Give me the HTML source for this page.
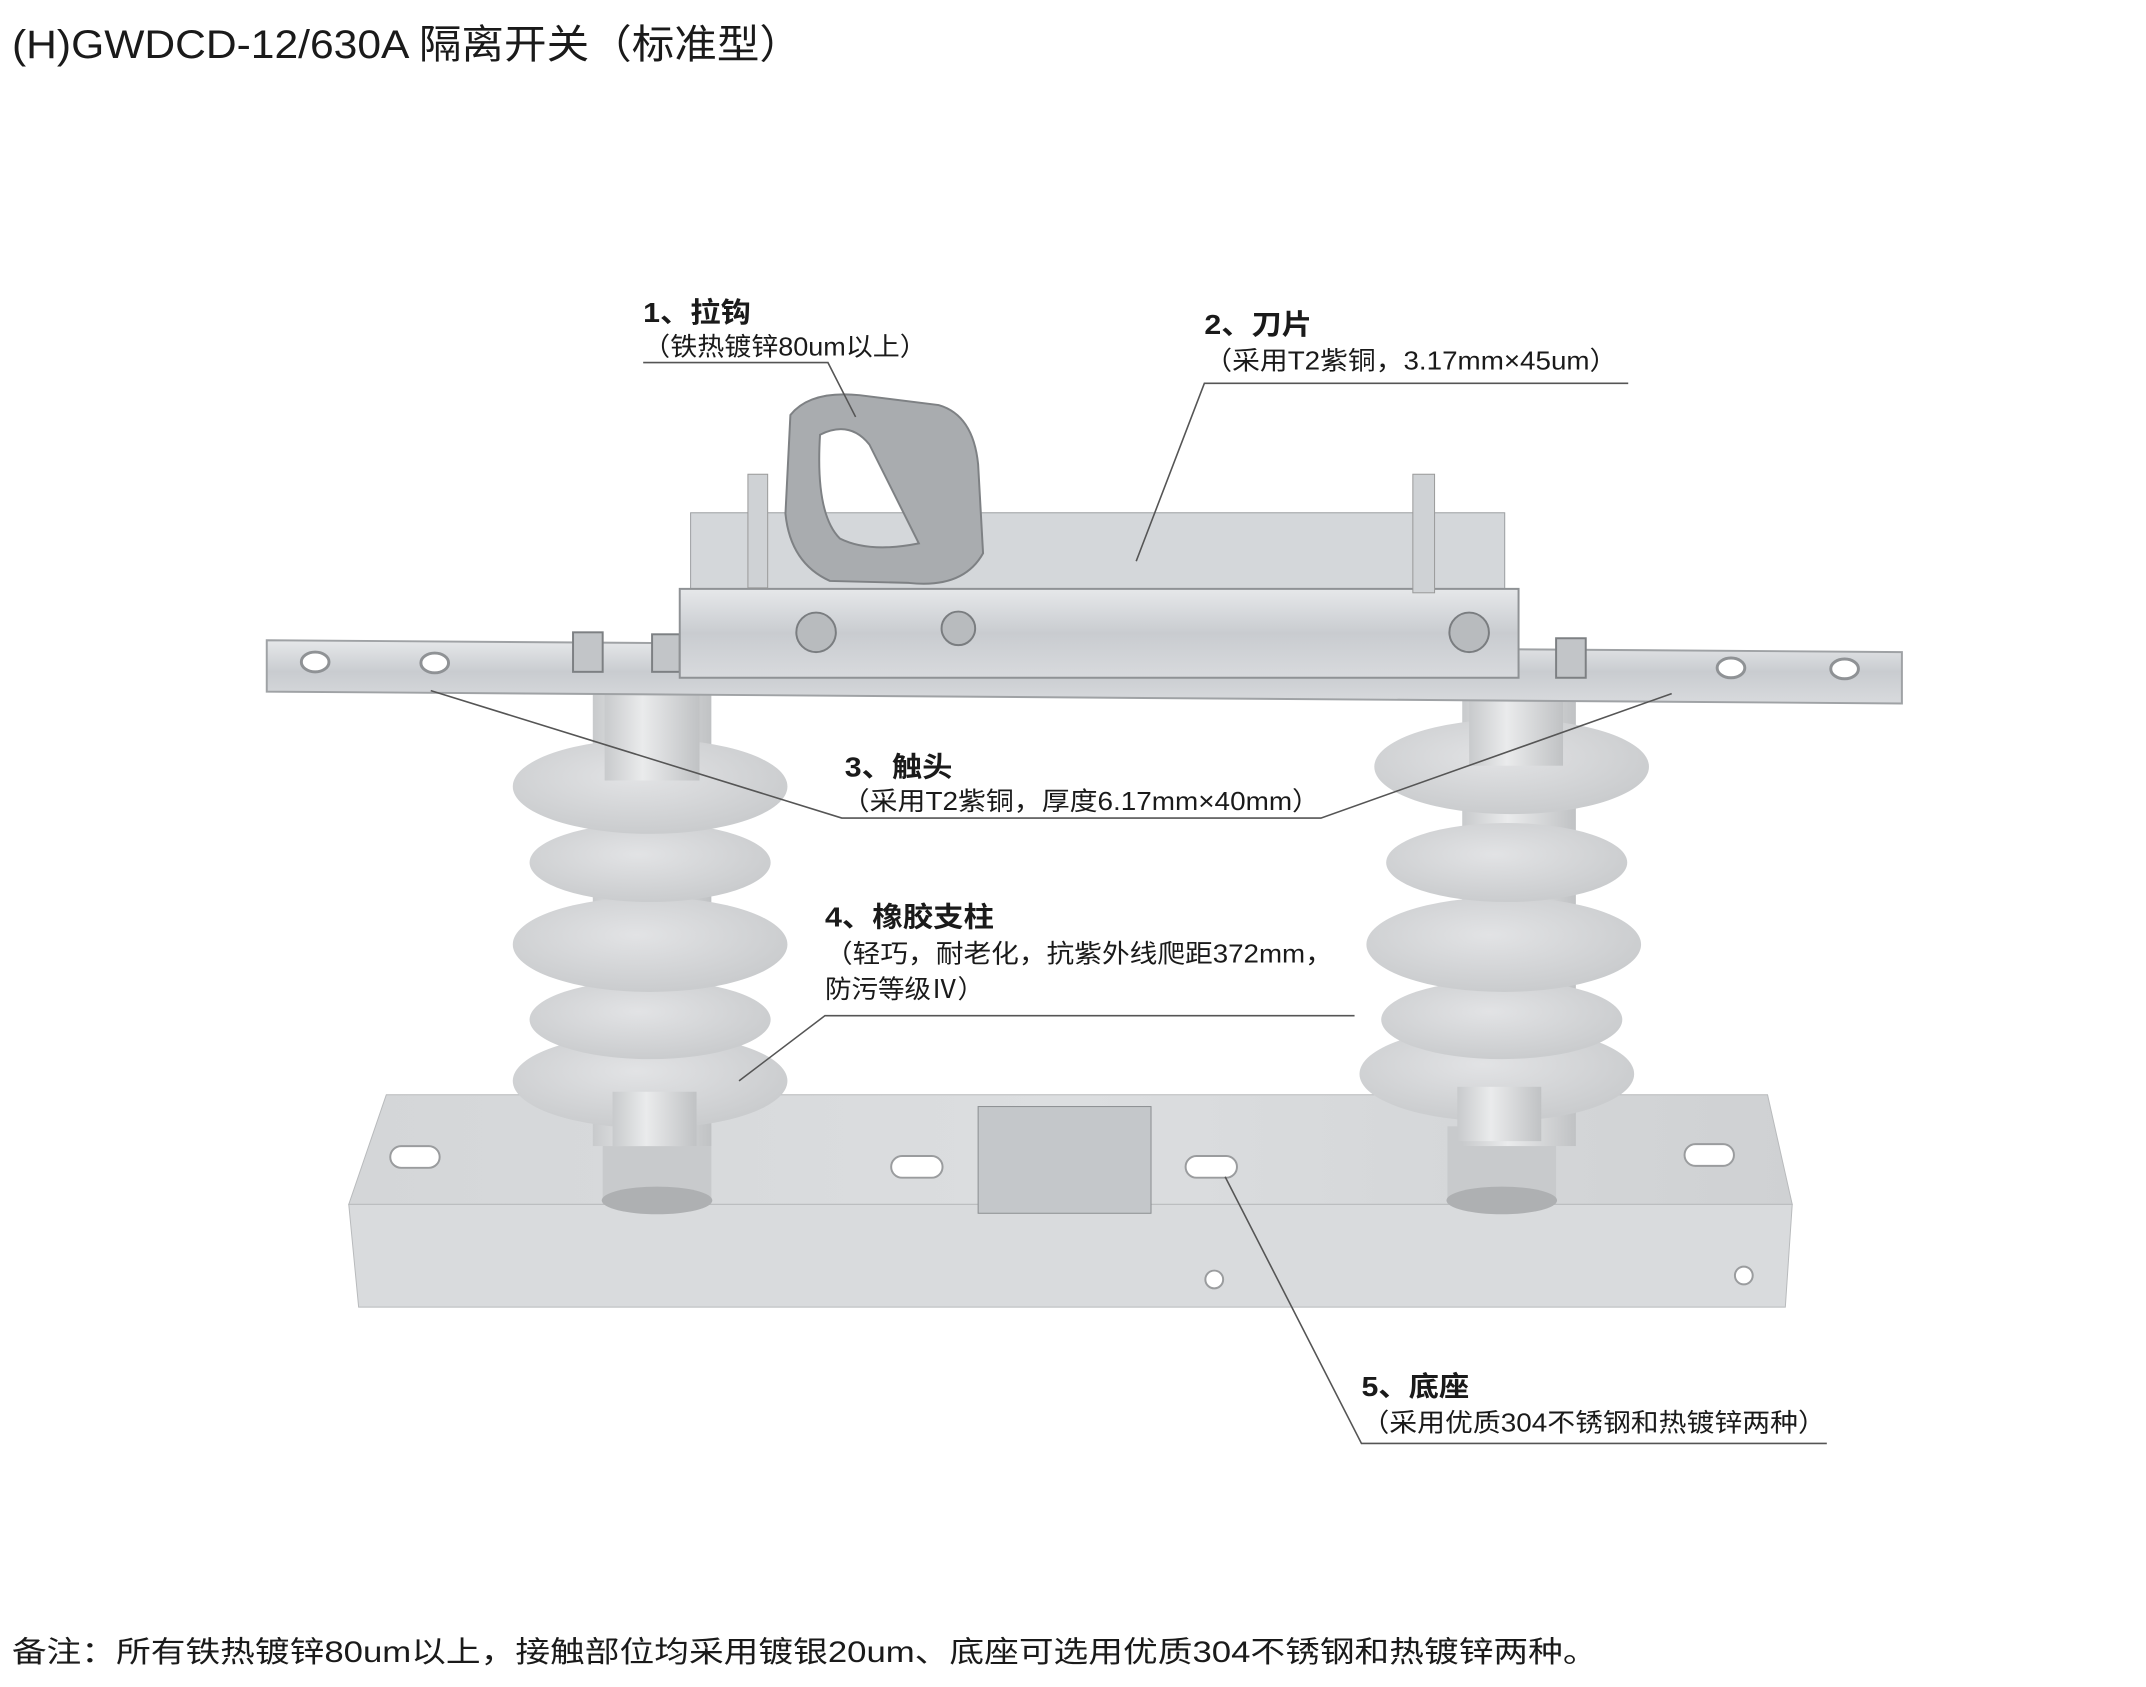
<!DOCTYPE html>
<html><head><meta charset="utf-8">
<style>
html,body{margin:0;padding:0;background:#fff;}
svg{display:block;}
text{font-family:"Liberation Sans","Noto Sans CJK SC",sans-serif;fill:#1a1a1a;}
.b{font-weight:bold;font-size:28px;}
.s{font-size:26px;}
</style></head><body>
<svg width="2146" height="1687" viewBox="0 0 2146 1687" xmlns="http://www.w3.org/2000/svg">
<defs>
<linearGradient id="metal" x1="0" y1="0" x2="0" y2="1">
<stop offset="0" stop-color="#e6e8ea"/><stop offset="0.5" stop-color="#c9ccd0"/><stop offset="1" stop-color="#d8dadd"/></linearGradient>
<linearGradient id="base" x1="0" y1="0" x2="1" y2="0">
<stop offset="0" stop-color="#d4d6d8"/><stop offset="0.5" stop-color="#dcdee0"/><stop offset="1" stop-color="#cfd1d3"/></linearGradient>
<linearGradient id="stem" x1="0" y1="0" x2="1" y2="0">
<stop offset="0" stop-color="#c8cacc"/><stop offset="0.4" stop-color="#eaebec"/><stop offset="1" stop-color="#c0c2c4"/></linearGradient>
<radialGradient id="disk" cx="0.45" cy="0.4" r="0.7">
<stop offset="0" stop-color="#e2e3e5"/><stop offset="1" stop-color="#c6c8ca"/></radialGradient>
</defs>

<text x="12" y="58" font-size="40" textLength="790" lengthAdjust="spacingAndGlyphs">(H)GWDCD-12/630A 隔离开关（标准型）</text>

<g transform="scale(0.988)">
<!-- base -->
<polygon points="391,1108 1789,1108 1814,1219 353,1219" fill="url(#base)" stroke="#b8babc"/>
<polygon points="353,1219 1814,1219 1807,1323 363,1323" fill="#d9dbdd" stroke="#b8babc"/>
<g fill="#fff" stroke="#9a9c9e" stroke-width="2">
<rect x="395" y="1160" width="50" height="22" rx="11"/>
<rect x="902" y="1170" width="52" height="22" rx="11"/>
<rect x="1200" y="1170" width="52" height="22" rx="11"/>
<rect x="1705" y="1158" width="50" height="22" rx="11"/>
<circle cx="1229" cy="1295" r="9"/><circle cx="1765" cy="1291" r="9"/>
</g>
<rect x="990" y="1120" width="175" height="108" fill="#c4c7ca" stroke="#8a8d90"/>

<!-- insulators -->
<g>
<rect x="610" y="1140" width="110" height="75" fill="#c8cacc"/>
<ellipse cx="665" cy="1215" rx="56" ry="14" fill="#aeb0b2"/>
<rect x="600" y="700" width="120" height="460" fill="url(#stem)"/>
<ellipse cx="658" cy="1094" rx="139" ry="48" fill="url(#disk)"/>
<ellipse cx="658" cy="1032" rx="122" ry="40" fill="url(#disk)"/>
<ellipse cx="658" cy="956" rx="139" ry="48" fill="url(#disk)"/>
<ellipse cx="658" cy="873" rx="122" ry="40" fill="url(#disk)"/>
<ellipse cx="658" cy="796" rx="139" ry="48" fill="url(#disk)"/>
<rect x="612" y="700" width="96" height="90" fill="url(#stem)"/>
<rect x="620" y="1105" width="85" height="55" fill="url(#stem)"/>
</g>
<g>
<rect x="1465" y="1140" width="110" height="75" fill="#c8cacc"/>
<ellipse cx="1520" cy="1215" rx="56" ry="14" fill="#aeb0b2"/>
<rect x="1480" y="700" width="115" height="460" fill="url(#stem)"/>
<ellipse cx="1515" cy="1087" rx="139" ry="48" fill="url(#disk)"/>
<ellipse cx="1520" cy="1032" rx="122" ry="40" fill="url(#disk)"/>
<ellipse cx="1522" cy="956" rx="139" ry="48" fill="url(#disk)"/>
<ellipse cx="1525" cy="873" rx="122" ry="40" fill="url(#disk)"/>
<ellipse cx="1530" cy="776" rx="139" ry="48" fill="url(#disk)"/>
<rect x="1487" y="700" width="95" height="75" fill="url(#stem)"/>
<rect x="1475" y="1100" width="85" height="55" fill="url(#stem)"/>
</g>

<!-- busbar -->
<polygon points="270,648 1925,660 1925,712 270,700" fill="url(#metal)" stroke="#9fa2a5" stroke-width="2"/>
<g fill="#fff" stroke="#8f9295" stroke-width="3">
<ellipse cx="319" cy="670" rx="14" ry="10"/><ellipse cx="440" cy="671" rx="14" ry="10"/>
<ellipse cx="1752" cy="676" rx="14" ry="10"/><ellipse cx="1867" cy="677" rx="14" ry="10"/>
</g>
<g fill="#c2c5c8" stroke="#7d8083" stroke-width="2">
<rect x="580" y="640" width="30" height="40"/><rect x="660" y="642" width="28" height="38"/>
<rect x="1575" y="646" width="30" height="40"/>
</g>

<!-- blade box -->
<rect x="699" y="519" width="824" height="77" fill="#d4d7da" stroke="#9a9da0"/>
<polygon points="688,596 1537,596 1537,686 688,686" fill="url(#metal)" stroke="#8f9295" stroke-width="2"/>
<g fill="#b8bbbe" stroke="#7a7d80" stroke-width="2">
<circle cx="826" cy="640" r="20"/><circle cx="970" cy="636" r="17"/><circle cx="1487" cy="640" r="20"/>
</g>
<rect x="757" y="480" width="20" height="115" fill="#cfd2d5" stroke="#999"/>
<rect x="1430" y="480" width="22" height="120" fill="#cfd2d5" stroke="#999"/>
<!-- hook -->
<path d="M800,420 Q820,395 870,400 L950,410 Q985,420 990,470 L995,560 Q975,596 920,590 L840,588 Q800,570 795,520 Z M830,440 Q825,520 850,545 Q880,560 930,550 Q905,500 880,450 Q860,425 830,440 Z" fill="#a9acaf" fill-rule="evenodd" stroke="#7e8184" stroke-width="2"/>

<!-- leader lines -->
<g stroke="#555" stroke-width="1.6" fill="none">
<polyline points="651,367 838,367 866,422"/>
<polyline points="1648,388 1219,388 1150,568"/>
<polyline points="436,699 852,828 1337,828 1692,702"/>
<polyline points="1371,1028 835,1028 748,1094"/>
<polyline points="1849,1461 1378,1461 1240,1191"/>
</g>

<!-- labels -->
<text class="b" x="651" y="326" textLength="109" lengthAdjust="spacingAndGlyphs">1、拉钩</text>
<text class="s" x="651" y="360" textLength="287" lengthAdjust="spacingAndGlyphs">（铁热镀锌80um以上）</text>
<text class="b" x="1219" y="338" textLength="109" lengthAdjust="spacingAndGlyphs">2、刀片</text>
<text class="s" x="1219" y="374" textLength="418" lengthAdjust="spacingAndGlyphs">（采用T2紫铜，3.17mm×45um）</text>
<text class="b" x="855" y="786" textLength="109" lengthAdjust="spacingAndGlyphs">3、触头</text>
<text class="s" x="852" y="820" textLength="484" lengthAdjust="spacingAndGlyphs">（采用T2紫铜，厚度6.17mm×40mm）</text>
<text class="b" x="835" y="938" textLength="171" lengthAdjust="spacingAndGlyphs">4、橡胶支柱</text>
<text class="s" x="835" y="974" textLength="514" lengthAdjust="spacingAndGlyphs">（轻巧，耐老化，抗紫外线爬距372mm，</text>
<text class="s" x="835" y="1010" textLength="161" lengthAdjust="spacingAndGlyphs">防污等级Ⅳ）</text>
<text class="b" x="1378" y="1413" textLength="109" lengthAdjust="spacingAndGlyphs">5、底座</text>
<text class="s" x="1378" y="1449" textLength="470" lengthAdjust="spacingAndGlyphs">（采用优质304不锈钢和热镀锌两种）</text>

<text x="12" y="1682" font-size="30" textLength="1605" lengthAdjust="spacingAndGlyphs">备注：所有铁热镀锌80um以上，接触部位均采用镀银20um、底座可选用优质304不锈钢和热镀锌两种。</text>
</g>
</svg>
</body></html>
